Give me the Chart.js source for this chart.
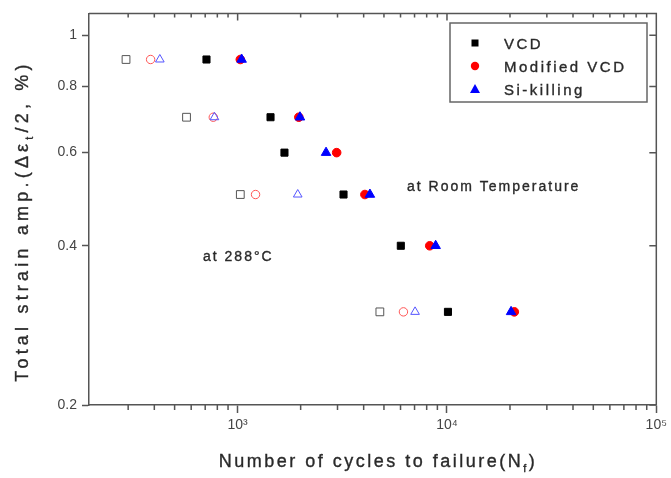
<!DOCTYPE html>
<html lang="en">
<head>
<meta charset="UTF-8">
<title>Strain amplitude vs. cycles to failure</title>
<script src="https://cdn.jsdelivr.net/npm/chart.js"></script>
<style>
    html, body { margin: 0; padding: 0; background: #ffffff; }
    #chart { display: block; }
</style>
</head>
<body>
<canvas id="chart" width="671" height="478"></canvas>
<script>
// room temperature tests: strain amplitude (%) and cycles to failure
const strainRT = [0.9, 0.7, 0.6, 0.5, 0.4, 0.3];
const vcdRT = [710, 1436, 1674, 3205, 6019, 10110];
const modVcdRT = [1030, 1960, 2972, 4055, 8272, 20980];
const siKillingRT = [1045, 1985, 2645, 4285, 8830, 20240];

// tests at 288 °C
const strain288 = [0.9, 0.7, 0.5, 0.3];
const vcd288 = [293, 570, 1030, 4780];
const modVcd288 = [384, 765, 1218, 6195];
const siKilling288 = [425, 775, 1937, 7041];

const seriesNames = ['VCD', 'Modified VCD', 'Si-killing'];

const yTicks = [0.2, 0.4, 0.6, 0.8, 1];
const yTickLabels = ['0.2', '0.4', '0.6', '0.8', '1'];
const xMajorTicks = [1000, 10000, 100000];
const xMajorLabels = ['10³', '10⁴', '10⁵'];
const xMinorTicks = [300, 400, 500, 600, 700, 800, 900,
    2000, 3000, 4000, 5000, 6000, 7000, 8000, 9000,
    20000, 30000, 40000, 50000, 60000, 70000, 80000, 90000];

const axisColor = '#555555';
const textColor = '#2a2a2a';
const font = 'Arial, "Liberation Sans", sans-serif';

function pts(xs, ys) {
    return xs.map((x, i) => ({ x: x, y: ys[i] }));
}

// text with letter spacing and optional subscript pieces
function drawRich(ctx, parts, cx, baseY, size, spacing) {
    ctx.letterSpacing = spacing + 'px';
    let total = 0;
    parts.forEach(p => {
        ctx.font = (p.sub ? size * 0.6 : size) + 'px ' + font;
        p.w = ctx.measureText(p.t).width;
        total += p.w;
    });
    let x = cx - total / 2;
    parts.forEach(p => {
        ctx.font = (p.sub ? size * 0.6 : size) + 'px ' + font;
        ctx.fillText(p.t, x, baseY + (p.sub ? size * 0.3 : 0));
        ctx.strokeText(p.t, x, baseY + (p.sub ? size * 0.3 : 0));
        x += p.w;
    });
}

function spacedText(ctx, text, x, y, size, spacing) {
    ctx.letterSpacing = spacing + 'px';
    ctx.font = size + 'px ' + font;
    ctx.fillText(text, x, y);
    ctx.strokeText(text, x, y);
}

const decorations = {
    id: 'decorations',
    afterDraw(chart) {
        const ctx = chart.ctx;
        const a = chart.chartArea;
        const xs = chart.scales.x;
        const ys = chart.scales.y;
        ctx.save();

        // top and right frame with inward ticks, bottom minor ticks
        ctx.strokeStyle = axisColor;
        ctx.lineWidth = 1.5;
        ctx.beginPath();
        ctx.moveTo(a.left, a.top);
        ctx.lineTo(a.right, a.top);
        ctx.lineTo(a.right, a.bottom);
        xMajorTicks.concat(xMinorTicks).forEach(v => {
            const px = xs.getPixelForValue(v);
            ctx.moveTo(px, a.top);
            ctx.lineTo(px, a.top + (xMajorTicks.includes(v) ? 7 : 4));
        });
        xMinorTicks.forEach(v => {
            const px = xs.getPixelForValue(v);
            ctx.moveTo(px, a.bottom);
            ctx.lineTo(px, a.bottom + 5);
        });
        yTicks.forEach(v => {
            const py = ys.getPixelForValue(v);
            ctx.moveTo(a.right, py);
            ctx.lineTo(a.right - 7, py);
        });
        ctx.stroke();

        // legend
        ctx.strokeStyle = '#666666';
        ctx.lineWidth = 1.5;
        ctx.strokeRect(450, 23, 197, 79);
        const rows = [43, 66, 89];
        ctx.fillStyle = '#000000';
        ctx.fillRect(471.5, rows[0] - 3.5, 7, 7);
        ctx.fillStyle = '#ff0000';
        ctx.beginPath();
        ctx.arc(475, rows[1], 4.2, 0, Math.PI * 2);
        ctx.fill();
        ctx.fillStyle = '#0000ff';
        ctx.beginPath();
        ctx.moveTo(475, rows[2] - 5);
        ctx.lineTo(480, rows[2] + 4);
        ctx.lineTo(470, rows[2] + 4);
        ctx.closePath();
        ctx.fill();

        ctx.fillStyle = textColor;
        ctx.strokeStyle = textColor;
        ctx.lineWidth = 0.35;
        ctx.textAlign = 'left';
        ctx.textBaseline = 'alphabetic';
        seriesNames.forEach((name, i) => spacedText(ctx, name, 504, rows[i] + 5.5, 15, 2.5));

        // condition notes
        spacedText(ctx, 'at Room Temperature', 407, 191, 14, 2);
        spacedText(ctx, 'at 288°C', 203, 261, 14, 2);

        // axis titles
        drawRich(ctx, [{ t: 'Number of cycles to failure(N' }, { t: 'f', sub: true }, { t: ')' }],
            378, 467, 18, 2.5);
        ctx.translate(28, 221);
        ctx.rotate(-Math.PI / 2);
        drawRich(ctx, [{ t: 'Total strain amp.(Δε' }, { t: 't', sub: true }, { t: '/2, %)' }],
            0, 0, 18, 4.2);
        ctx.restore();
    }
};

const ctx = document.getElementById('chart').getContext('2d');

new Chart(ctx, {
    type: 'scatter',
    data: {
        datasets: [
            { label: 'Si-killing', data: pts(siKillingRT, strainRT), pointStyle: 'triangle', pointRadius: 5.5,
              backgroundColor: '#0000ff', borderColor: '#0000ff', borderWidth: 1 },
            { label: 'Modified VCD', data: pts(modVcdRT, strainRT), pointStyle: 'circle', pointRadius: 4.3,
              backgroundColor: '#ff0000', borderColor: '#ff0000', borderWidth: 1 },
            { label: 'VCD', data: pts(vcdRT, strainRT), pointStyle: 'rect', pointRadius: 5,
              backgroundColor: '#000000', borderColor: '#000000', borderWidth: 1 },
            { label: 'Si-killing 288', data: pts(siKilling288, strain288), pointStyle: 'triangle', pointRadius: 5,
              backgroundColor: 'rgba(0,0,0,0)', borderColor: '#5555ff', borderWidth: 1 },
            { label: 'Modified VCD 288', data: pts(modVcd288, strain288), pointStyle: 'circle', pointRadius: 4.2,
              backgroundColor: 'rgba(0,0,0,0)', borderColor: '#ff5555', borderWidth: 1 },
            { label: 'VCD 288', data: pts(vcd288, strain288), pointStyle: 'rect', pointRadius: 5.5,
              backgroundColor: 'rgba(0,0,0,0)', borderColor: '#555555', borderWidth: 1 }
        ]
    },
    options: {
        responsive: false,
        animation: false,
        layout: { padding: { left: 40, right: 13, top: 11, bottom: 40 } },
        plugins: {
            legend: { display: false },
            tooltip: { enabled: false }
        },
        scales: {
            x: {
                type: 'logarithmic',
                position: 'bottom',
                min: 195,
                max: 100000,
                afterBuildTicks: scale => {
                    scale.ticks = xMajorTicks.map(v => ({ value: v }));
                },
                afterFit: scale => { scale.height = 33; },
                ticks: {
                    autoSkip: false,
                    maxRotation: 0,
                    padding: 4,
                    color: '#444444',
                    font: { family: font, size: 14 },
                    callback: v => xMajorLabels[xMajorTicks.indexOf(v)] || ''
                },
                grid: { drawOnChartArea: false, tickLength: 8, tickColor: axisColor, tickWidth: 1.5 },
                border: { color: axisColor, width: 1.5 }
            },
            y: {
                type: 'logarithmic',
                position: 'left',
                min: 0.2,
                max: 1.1,
                afterBuildTicks: scale => {
                    scale.ticks = yTicks.map(v => ({ value: v }));
                },
                afterFit: scale => { scale.width = 49; },
                ticks: {
                    padding: 5,
                    color: '#444444',
                    font: { family: font, size: 14 },
                    callback: v => yTickLabels[yTicks.indexOf(v)] || ''
                },
                grid: { drawOnChartArea: false, tickLength: 7, tickColor: axisColor, tickWidth: 1.5 },
                border: { color: axisColor, width: 1.5 }
            }
        }
    },
    plugins: [decorations]
});
</script>
</body>
</html>
